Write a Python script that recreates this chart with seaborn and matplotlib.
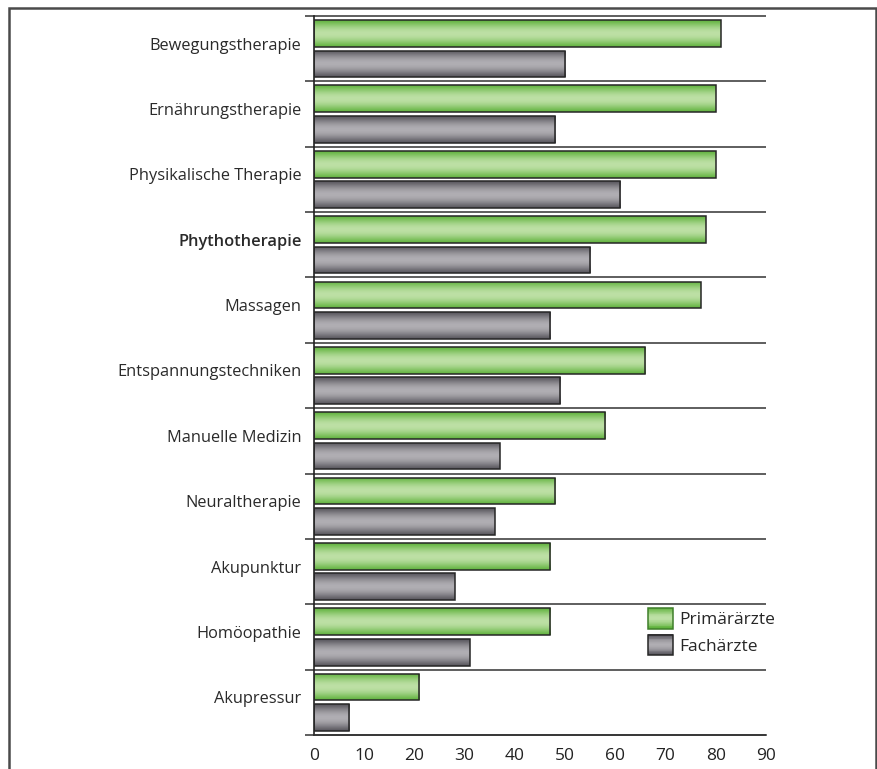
import numpy as np
import pandas as pd
import matplotlib
matplotlib.use("Agg")
import matplotlib.pyplot as plt
import matplotlib.patches as mpatches
import matplotlib.transforms as mtransforms
from matplotlib.legend_handler import HandlerBase
import seaborn as sns

categories = [
    "Bewegungstherapie", "Ernährungstherapie", "Physikalische Therapie",
    "Phythotherapie", "Massagen", "Entspannungstechniken", "Manuelle Medizin",
    "Neuraltherapie", "Akupunktur", "Homöopathie", "Akupressur",
]
primaeraerzte = [81, 80, 80, 78, 77, 66, 58, 48, 47, 47, 21]
fachaerzte = [50, 48, 61, 55, 47, 49, 37, 36, 28, 31, 7]
series_names = ["Primärärzte", "Fachärzte"]
x_ticks = [0, 10, 20, 30, 40, 50, 60, 70, 80, 90]

# gradient stops: (edge, centre) colours for each series
shades = {
    "Primärärzte": ("#62b33f", "#bde0a5"),
    "Fachärzte": ("#58565d", "#b0aeb3"),
}

df = pd.DataFrame({
    "Therapie": categories * 2,
    "Anteil": primaeraerzte + fachaerzte,
    "Gruppe": [series_names[0]] * len(categories) + [series_names[1]] * len(categories),
})

sns.set_style("white")
plt.rcParams["font.family"] = ["Open Sans", "DejaVu Sans"]
plt.rcParams["font.size"] = 11

W, H = 878, 769
fig = plt.figure(figsize=(W / 100, H / 100), dpi=100)
ax = fig.add_axes([314 / W, 1 - 735 / H, (766 - 314) / W, (735 - 16) / H])

sns.barplot(data=df, y="Therapie", x="Anteil", hue="Gruppe", orient="h",
            palette=[shades[s][0] for s in series_names], width=0.93, gap=0.12,
            ax=ax, legend=False, saturation=1)


def gradient_rgb(edge, centre, n=64):
    e = np.array(matplotlib.colors.to_rgb(edge))
    c = np.array(matplotlib.colors.to_rgb(centre))
    t = np.linspace(0, 1, n)
    w = np.sin(np.pi * t) ** 1.2
    return e[None, :] * (1 - w[:, None]) + c[None, :] * w[:, None]


grad = {s: gradient_rgb(*shades[s]) for s in series_names}

# fill each bar with a cylindrical shading, clipped to the bar outline
for container, name in zip(ax.containers, series_names):
    for bar in container:
        x0, y0 = bar.get_x(), bar.get_y()
        w, h = bar.get_width(), bar.get_height()
        img = grad[name][:, None, :]
        im = ax.imshow(img, extent=(x0, x0 + w, y0 + h, y0), aspect="auto",
                       interpolation="bilinear", zorder=2)
        im.set_clip_path(bar)
        bar.set_facecolor("none")
        bar.set_edgecolor("#262626")
        bar.set_linewidth(1.1)
        bar.set_zorder(3)

ax.set_xlim(0, 90)
ax.set_ylim(len(categories) - 0.5, -0.5)
ax.set_xticks(x_ticks)
ax.set_xticklabels([str(v) for v in x_ticks], fontsize=12.5, color="#222222")
ax.set_xlabel("")
ax.set_ylabel("")
ax.tick_params(axis="x", direction="out", length=8, width=1.2, color="#333333", pad=1)
ax.tick_params(axis="y", length=0, pad=9)
label_shift = mtransforms.ScaledTranslation(0, 5 / 100, fig.dpi_scale_trans)
for lbl in ax.get_yticklabels():
    lbl.set_fontsize(11.8)
    lbl.set_color("#2a2a2a")
    lbl.set_transform(lbl.get_transform() + label_shift)
    if lbl.get_text() == "Phythotherapie":
        lbl.set_fontweight("semibold")

for side in ["top", "right"]:
    ax.spines[side].set_visible(False)
ax.spines["left"].set_color("#222222")
ax.spines["left"].set_linewidth(1.2)
ax.spines["bottom"].set_color("#333333")
ax.spines["bottom"].set_linewidth(1.2)

# category separators reaching a little past the value axis
bounds = np.arange(-0.5, len(categories), 1.0)
ax.hlines(bounds, -9 / 452, 1, transform=ax.get_yaxis_transform(),
          colors="#5e5e5e", linewidth=1.4, clip_on=False, zorder=1)


class GradientHandler(HandlerBase):
    def __init__(self, name):
        super().__init__()
        self.name = name

    def create_artists(self, legend, orig_handle, xdescent, ydescent,
                       width, height, fontsize, trans):
        cols = grad[self.name]
        n = 24
        arts = []
        for i in range(n):
            c = cols[int(i * (len(cols) - 1) / (n - 1))]
            y = -ydescent + height * (1 - (i + 1) / n)
            r = mpatches.Rectangle((-xdescent, y), width, height / n + 0.3,
                                   facecolor=c, edgecolor="none", transform=trans)
            arts.append(r)
        edge = "#3f7f2a" if self.name == series_names[0] else "#262626"
        outline = mpatches.Rectangle((-xdescent, -ydescent), width, height,
                                     facecolor="none", edgecolor=edge,
                                     linewidth=1.1, transform=trans)
        arts.append(outline)
        return arts


handles = [mpatches.Patch(label=s) for s in series_names]
ax.legend(handles=handles, labels=series_names,
          handler_map={h: GradientHandler(s) for h, s in zip(handles, series_names)},
          loc="upper left", bbox_to_anchor=(648 / W, 1 - 608 / H),
          bbox_transform=fig.transFigure, frameon=False, fontsize=12.5,
          handlelength=1.45, handleheight=1.45, handletextpad=0.35,
          labelspacing=0.35, borderpad=0, borderaxespad=0)

# outer frame around the figure
frame = mpatches.Rectangle((9.5 / W, -0.05), (876 - 9.5) / W, 1.05 - 7.5 / H,
                           transform=fig.transFigure, facecolor="none",
                           edgecolor="#4a4a4a", linewidth=1.8)
fig.patches.append(frame)

fig.savefig("out.png", dpi=100)
